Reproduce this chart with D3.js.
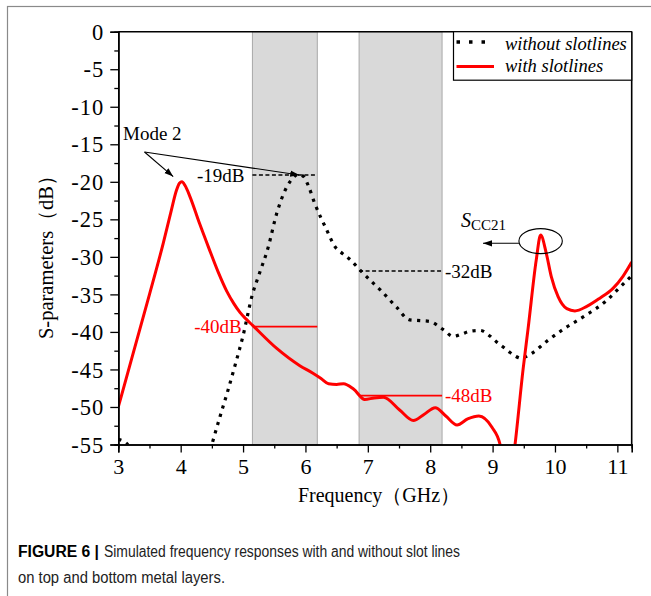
<!DOCTYPE html>
<html><head><meta charset="utf-8">
<script src="https://cdn.jsdelivr.net/npm/d3@7"></script>
<style>
body{margin:0;background:#fff;}
</style></head>
<body>
<svg id="c" width="651" height="596"></svg>
<script>
// ---- data ----
const xTicks = [3,4,5,6,7,8,9,10,11];
const yTicks = [0,-5,-10,-15,-20,-25,-30,-35,-40,-45,-50,-55];
const bands = [[5.15,6.19],[6.86,8.19]];
// without slotlines (dotted black)
const noSlotF = [3,3.15,3.3,4.4,4.5,4.63,4.75,4.87,5.0,5.15,5.25,5.4,5.54,5.7,5.8,5.88,5.97,6.05,6.15,6.34,6.47,6.6,6.72,6.88,7.05,7.2,7.46,7.67,7.85,7.99,8.21,8.37,8.5,8.64,8.8,8.95,9.06,9.2,9.36,9.45,9.62,9.86,10.16,10.51,10.83,11.0,11.23];
const noSlotS = [-54.3,-55,-58,-58,-55,-51.3,-48,-44.5,-40.5,-35,-32.5,-28.8,-24.2,-20.7,-19.5,-19.0,-19.3,-20.6,-22.9,-26.4,-28.6,-29.6,-30.4,-31.8,-33.2,-34.4,-36.7,-38.4,-38.5,-38.6,-39.7,-40.6,-40.3,-39.9,-39.8,-40.5,-41.3,-42.2,-43.2,-43.5,-42.9,-41.3,-39.5,-37.7,-35.8,-34.4,-32.5];
// with slotlines (solid red)
const slotF = [3,3.25,3.5,3.72,3.85,3.93,3.98,4.02,4.07,4.15,4.3,4.45,4.6,4.74,4.85,4.95,5.05,5.15,5.54,5.91,6.12,6.25,6.37,6.5,6.61,6.77,6.95,7.1,7.25,7.51,7.73,7.9,8.08,8.25,8.43,8.6,8.78,8.99,9.12,9.2,9.3,9.36,9.49,9.57,9.7,9.77,9.86,9.94,10.05,10.19,10.32,10.51,10.72,10.93,11.09,11.23];
const slotS = [-50,-42.5,-35,-28.2,-23.8,-21.2,-20.2,-20,-20.5,-22.0,-25.5,-28.8,-32.0,-34.6,-36.2,-37.4,-38.3,-39.1,-42.2,-44.5,-45.5,-46.2,-46.9,-47,-46.9,-47.6,-49.0,-48.8,-48.7,-50.4,-51.8,-51.0,-50.1,-51.2,-52.4,-51.6,-51.2,-52.7,-55,-59,-59,-55,-44.9,-39.5,-30.4,-27.1,-29.5,-32.6,-35.3,-36.9,-37.2,-36.6,-35.5,-34.2,-32.6,-30.7];
const seriesNames = ["without slotlines","with slotlines"];

// ---- layout ----
const svg = d3.select("#c");
const serif = "'Liberation Serif','Times New Roman',serif";
const L=118.3, R=631.7, T=31.7, B=444.5;
const x = d3.scaleLinear().domain([3,11.23]).range([L,R]);
const y = d3.scaleLinear().domain([-55,0]).range([B,T]);

// outer frame
svg.append("rect").attr("x",7.5).attr("y",6.5).attr("width",700).attr("height",700)
  .attr("fill","none").attr("stroke","#8a8a8a").attr("stroke-width",1.2);

// clip
const defs = svg.append("defs");
defs.append("clipPath").attr("id","pc").append("rect")
  .attr("x",L).attr("y",T).attr("width",R-L).attr("height",B-T);

// bands
svg.append("g").selectAll("rect").data(bands).join("rect")
  .attr("x",d=>x(d[0])).attr("y",T).attr("width",d=>x(d[1])-x(d[0])).attr("height",B-T)
  .attr("fill","#d9d9d9").attr("stroke","#a8a8a8").attr("stroke-width",1);

// lines
const lineGen = d3.line().x(d=>x(d[0])).y(d=>y(d[1])).curve(d3.curveMonotoneX);
const g = svg.append("g").attr("clip-path","url(#pc)");
g.append("path").datum(noSlotF.map((f,i)=>[f,noSlotS[i]])).attr("d",lineGen)
  .attr("fill","none").attr("stroke","#000").attr("stroke-width",3.2).attr("stroke-dasharray","3.2 5.5");
g.append("path").datum(slotF.map((f,i)=>[f,slotS[i]])).attr("d",lineGen)
  .attr("fill","none").attr("stroke","#ff0000").attr("stroke-width",3).attr("stroke-linejoin","round");

// axes
const fmt = d=>String(d);
svg.append("g").attr("class","xa").attr("transform",`translate(0,${B})`)
  .call(d3.axisBottom(x).tickValues(xTicks).tickFormat(fmt).tickSize(8).tickPadding(6));
svg.append("g").attr("transform",`translate(0,${B})`)
  .call(d3.axisBottom(x).tickValues(d3.range(3.5,11.2,1)).tickFormat("").tickSize(4));
svg.append("g").attr("class","ya").attr("transform",`translate(${L},0)`)
  .call(d3.axisLeft(y).tickValues(yTicks).tickFormat(fmt).tickSize(8).tickPadding(6));
svg.append("g").attr("transform",`translate(${L},0)`)
  .call(d3.axisLeft(y).tickValues(d3.range(-2.5,-55,-5)).tickFormat("").tickSize(4));
svg.selectAll(".domain").attr("stroke","#000").attr("stroke-width",1.6);
svg.selectAll(".tick line").attr("stroke","#000").attr("stroke-width",1.3);
svg.selectAll(".xa .tick text").style("font-family",serif).style("font-size","22px").attr("fill","#000");
svg.selectAll(".ya .tick text").style("font-family",serif).style("font-size","22.5px")
  .style("letter-spacing","1px").attr("fill","#000").attr("dy","0.34em");
// top & right frame
svg.append("line").attr("x1",L).attr("x2",R).attr("y1",T).attr("y2",T).attr("stroke","#000").attr("stroke-width",1.6);
svg.append("line").attr("x1",R).attr("x2",R).attr("y1",T).attr("y2",B).attr("stroke","#000").attr("stroke-width",1.6);

// text helper
function txt(xp, yp, s, size, opts={}){
  const t = svg.append("text").attr("x",xp).attr("y",yp).style("font-family",serif).style("font-size",size+"px")
    .attr("fill",opts.fill||"#000").attr("text-anchor",opts.anchor||"start");
  if(opts.italic) t.style("font-style","italic");
  if(s!==null) t.text(s);
  return t;
}

// axis titles
txt(379,502,"Frequency（GHz）",20,{anchor:"middle"});
txt(0,0,"S-parameters（dB）",20.5,{anchor:"middle"}).attr("x",null).attr("y",null)
  .attr("transform","translate(53,252) rotate(-90)");

// legend
svg.append("rect").attr("x",453.5).attr("y",T).attr("width",R-453.5).attr("height",48.5)
  .attr("fill","#fff").attr("stroke","#000").attr("stroke-width",1.2);
svg.append("line").attr("x1",456.5).attr("x2",488).attr("y1",42).attr("y2",42)
  .attr("stroke","#000").attr("stroke-width",3.5).attr("stroke-dasharray","3.5 9");
svg.append("line").attr("x1",456.5).attr("x2",494).attr("y1",66.5).attr("y2",66.5)
  .attr("stroke","#ff0000").attr("stroke-width",3);
txt(505,50,seriesNames[0],18.5,{italic:true});
txt(505,72,seriesNames[1],18.5,{italic:true});

// annotations
defs.append("marker").attr("id","ah").attr("viewBox","0 0 10 10").attr("refX",10).attr("refY",5)
  .attr("markerWidth",9).attr("markerHeight",9).attr("markerUnits","userSpaceOnUse").attr("orient","auto")
  .append("path").attr("d","M0,1.5 L10,5 L0,8.5 Z").attr("fill","#000");

// -19dB
svg.append("line").attr("x1",x(5.15)).attr("x2",x(6.19)).attr("y1",y(-19.1)).attr("y2",y(-19.1))
  .attr("stroke","#000").attr("stroke-width",1.5).attr("stroke-dasharray","4 2.5");
txt(x(5.15)-8,y(-19.1)+6.5,"-19dB",19,{anchor:"end"});
// -32dB
svg.append("line").attr("x1",x(6.86)).attr("x2",x(8.19)).attr("y1",y(-31.9)).attr("y2",y(-31.9))
  .attr("stroke","#000").attr("stroke-width",1.5).attr("stroke-dasharray","4 2.5");
txt(x(8.19)+3,y(-31.9)+6.5,"-32dB",19);
// -40dB
svg.append("line").attr("x1",x(5.17)).attr("x2",x(6.19)).attr("y1",y(-39.3)).attr("y2",y(-39.3))
  .attr("stroke","#ff0000").attr("stroke-width",1.8);
txt(x(5.17)-12,y(-39.3)+6.5,"-40dB",19,{anchor:"end",fill:"#ff0000"});
// -48dB
svg.append("line").attr("x1",x(6.86)).attr("x2",x(8.19)).attr("y1",y(-48.5)).attr("y2",y(-48.5))
  .attr("stroke","#ff0000").attr("stroke-width",1.8);
txt(x(8.19)+3,y(-48.5)+6.5,"-48dB",19,{fill:"#ff0000"});

// Mode 2
txt(123,140,"Mode 2",19);
svg.append("line").attr("x1",144.5).attr("y1",152).attr("x2",x(3.88)).attr("y2",y(-19.3))
  .attr("stroke","#000").attr("stroke-width",1.1).attr("marker-end","url(#ah)");
svg.append("line").attr("x1",144.5).attr("y1",152).attr("x2",x(5.9)).attr("y2",y(-19.1))
  .attr("stroke","#000").attr("stroke-width",1.1).attr("marker-end","url(#ah)");

// S_CC21
svg.append("ellipse").attr("cx",x(9.77)).attr("cy",y(-27.9)).attr("rx",21.7).attr("ry",12.5)
  .attr("fill","none").attr("stroke","#000").attr("stroke-width",1.1);
svg.append("line").attr("x1",x(9.77)-21.7).attr("y1",243.3).attr("x2",483).attr("y2",243.3)
  .attr("stroke","#000").attr("stroke-width",1.1).attr("marker-end","url(#ah)");
const st = txt(461,227,null,20);
st.append("tspan").style("font-style","italic").text("S");
st.append("tspan").style("font-size","15px").attr("dy",3).text("CC21");

// caption
const sans = "'Liberation Sans Narrow','Liberation Sans',Arial,sans-serif";
svg.append("text").attr("x",18).attr("y",557).style("font-size","16px").style("font-family",sans)
  .style("font-weight","bold").attr("fill","#000")
  .attr("textLength",81).attr("lengthAdjust","spacingAndGlyphs").text("FIGURE 6 |");
svg.append("text").attr("x",104).attr("y",557).style("font-size","16px").style("font-family",sans)
  .attr("fill","#222").attr("textLength",356).attr("lengthAdjust","spacingAndGlyphs")
  .text("Simulated frequency responses with and without slot lines");
svg.append("text").attr("x",18).attr("y",583).style("font-size","16px").style("font-family",sans).attr("fill","#222")
  .attr("textLength",207).attr("lengthAdjust","spacingAndGlyphs")
  .text("on top and bottom metal layers.");
</script>
</body></html>
